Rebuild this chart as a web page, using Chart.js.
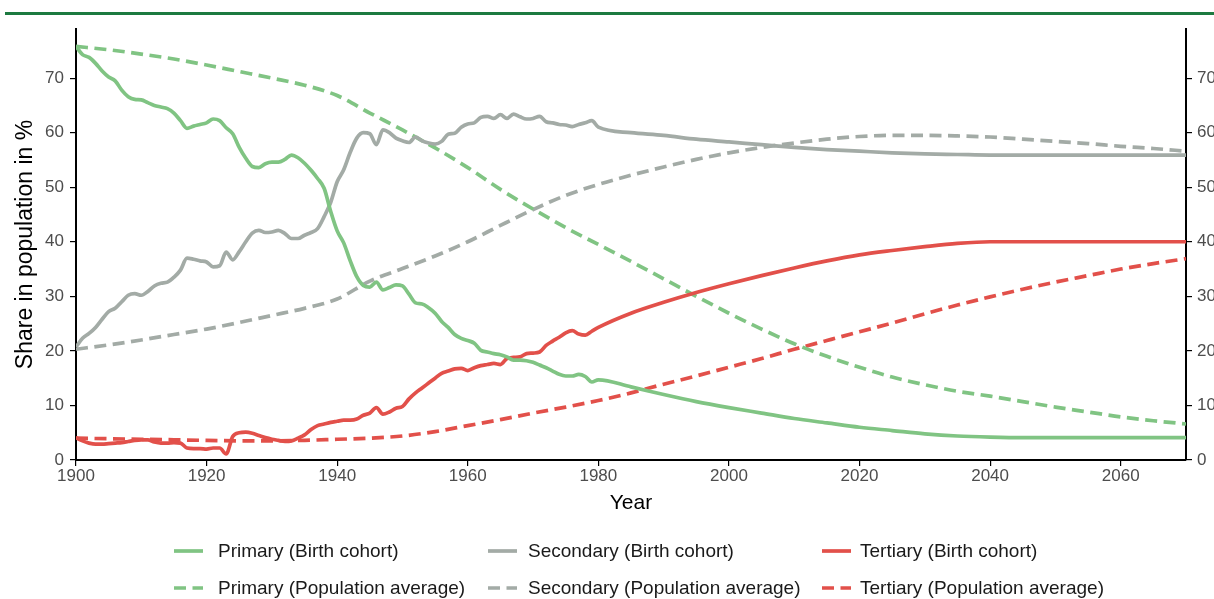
<!DOCTYPE html>
<html>
<head>
<meta charset="utf-8">
<script src="https://cdn.jsdelivr.net/npm/chart.js@4.4.1/dist/chart.umd.min.js"></script>
<style>
  html, body { margin: 0; padding: 0; background: #fff; overflow: hidden; width: 1214px; height: 599px; }
  #wrap { position: relative; width: 1240px; height: 599px; }
  #rule { position: absolute; left: 5px; top: 12px; width: 1235px; height: 2.6px; background: #1d7a40; }
  canvas { position: absolute; left: 0; top: 0; }
</style>
</head>
<body>
<div id="wrap">
  <div id="rule"></div>
  <canvas id="chart" width="1240" height="599"></canvas>
</div>
<script>
// Educational attainment shares (%), by birth cohort and as population average
const cohortYears = [
  1900, 1901, 1902, 1903, 1904, 1905, 1906, 1907, 1908, 1909,
  1910, 1911, 1912, 1913, 1914, 1915, 1916, 1917, 1918, 1919,
  1920, 1921, 1922, 1923, 1924, 1925, 1926, 1927, 1928, 1929,
  1930, 1931, 1932, 1933, 1934, 1935, 1936, 1937, 1938, 1939,
  1940, 1941, 1942, 1943, 1944, 1945, 1946, 1947, 1948, 1949,
  1950, 1951, 1952, 1953, 1954, 1955, 1956, 1957, 1958, 1959,
  1960, 1961, 1962, 1963, 1964, 1965, 1966, 1967, 1968, 1969,
  1970, 1971, 1972, 1973, 1974, 1975, 1976, 1977, 1978, 1979,
  1980, 1985, 1990, 1995, 2000, 2005, 2010, 2015, 2020, 2025,
  2030, 2035, 2040, 2045, 2050, 2060, 2070
];

const primaryCohort = [
  75.8, 74.3, 73.8, 72.7, 71.3, 70.2, 69.5, 67.8, 66.6, 66.1,
  66.0, 65.5, 65.0, 64.7, 64.4, 63.6, 62.2, 60.8, 61.2, 61.5,
  61.8, 62.5, 62.2, 60.9, 59.8, 57.3, 55.3, 53.8, 53.6, 54.3,
  54.6, 54.6, 55.1, 55.9, 55.4, 54.4, 53.1, 51.6, 49.8, 45.6,
  42.0, 39.8, 36.5, 33.6, 32.0, 31.7, 32.6, 31.2, 31.6, 32.1,
  31.9, 30.4, 28.8, 28.6, 27.9, 26.9, 25.4, 24.3, 23.0, 22.3,
  21.9, 21.4, 20.1, 19.8, 19.5, 19.3, 18.9, 18.3, 18.3, 18.2,
  17.9, 17.4, 16.9, 16.3, 15.7, 15.4, 15.4, 15.7, 15.3, 14.3,
  14.7, 13.4, 12.0, 10.7, 9.6, 8.6, 7.6, 6.8, 6.0, 5.4,
  4.8, 4.4, 4.2, 4.1, 4.1, 4.1, 4.1
];

const secondaryCohort = [
  20.7, 22.3, 23.2, 24.3, 25.8, 27.2, 27.8, 29.0, 30.2, 30.5,
  30.2, 30.9, 31.9, 32.4, 32.6, 33.5, 34.8, 37.0, 36.8, 36.5,
  36.3, 35.4, 35.6, 38.1, 36.7, 38.2, 40.0, 41.6, 42.1, 41.7,
  41.8, 42.1, 41.5, 40.6, 40.6, 41.2, 41.7, 42.4, 44.6, 47.2,
  51.0, 53.2, 56.4, 59.0, 60.0, 59.8, 57.8, 60.5, 60.0, 59.0,
  58.5, 58.2, 59.2, 58.5, 58.1, 57.9, 58.4, 59.7, 59.9, 61.0,
  61.6, 61.8, 62.8, 63.0, 62.6, 63.3, 62.6, 63.4, 62.9, 62.5,
  62.6, 63.0, 62.0, 61.8, 61.5, 61.4, 61.1, 61.5, 61.8, 62.2,
  61.0, 60.0, 59.5, 58.8, 58.3, 57.8, 57.3, 56.9, 56.6, 56.3,
  56.1, 56.0, 55.9, 55.9, 55.9, 55.9, 55.9
];

const tertiaryCohort = [
  4.1, 3.5, 3.1, 2.9, 2.9, 3.0, 3.1, 3.2, 3.4, 3.6,
  3.7, 3.7, 3.3, 3.1, 3.1, 3.2, 3.1, 2.2, 2.1, 2.1,
  2.0, 2.2, 2.2, 1.1, 4.3, 5.0, 5.1, 4.9, 4.5, 4.1,
  3.8, 3.6, 3.4, 3.5, 4.0, 4.6, 5.6, 6.3, 6.6, 6.9,
  7.1, 7.3, 7.3, 7.5, 8.2, 8.6, 9.6, 8.4, 8.8, 9.5,
  9.8, 11.2, 12.3, 13.2, 14.1, 15.0, 15.9, 16.3, 16.7, 16.8,
  16.4, 16.9, 17.3, 17.5, 17.7, 17.5, 18.6, 18.8, 18.9, 19.5,
  19.6, 19.8, 21.0, 21.8, 22.5, 23.3, 23.7, 23.1, 22.9, 23.6,
  24.3, 26.9, 28.9, 30.7, 32.3, 33.8, 35.2, 36.5, 37.6, 38.4,
  39.1, 39.7, 40.0, 40.0, 40.0, 40.0, 40.0
];

const averageYears = [
  1900, 1905, 1910, 1915, 1920, 1925, 1930, 1935, 1940, 1945,
  1950, 1955, 1960, 1965, 1970, 1975, 1980, 1985, 1990, 1995,
  2000, 2005, 2010, 2015, 2020, 2025, 2030, 2035, 2040, 2045,
  2050, 2055, 2060, 2065, 2070
];

const primaryAverage = [
  75.8, 75.2, 74.4, 73.5, 72.4, 71.2, 70.0, 68.7, 66.8, 63.6,
  60.5, 57.2, 53.6, 49.6, 46.0, 42.6, 39.5, 36.4, 33.2, 30.0,
  26.9, 24.0, 21.3, 19.0, 17.0, 15.2, 13.8, 12.6, 11.7, 10.7,
  9.7, 8.8, 7.9, 7.2, 6.6
];

const secondaryAverage = [
  20.3, 21.1, 22.0, 23.0, 24.0, 25.2, 26.5, 27.8, 29.5, 32.8,
  35.1, 37.4, 40.0, 43.0, 45.9, 48.5, 50.5, 52.2, 53.7, 55.1,
  56.3, 57.3, 58.1, 58.8, 59.3, 59.5, 59.5, 59.4, 59.2, 58.8,
  58.4, 58.0, 57.5, 57.1, 56.6
];

const tertiaryAverage = [
  4.0, 3.9, 3.8, 3.7, 3.6, 3.5, 3.5, 3.6, 3.8, 4.0,
  4.4, 5.2, 6.3, 7.4, 8.6, 9.7, 10.9, 12.3, 13.9, 15.4,
  17.0, 18.6, 20.3, 21.9, 23.5, 25.1, 26.8, 28.4, 29.9, 31.3,
  32.6, 33.8, 35.0, 36.0, 36.9
];

const xTickValues = [1900, 1920, 1940, 1960, 1980, 2000, 2020, 2040, 2060];
const yTickValues = [0, 10, 20, 30, 40, 50, 60, 70];

const seriesLabels = [
  'Primary (Birth cohort)', 'Secondary (Birth cohort)', 'Tertiary (Birth cohort)',
  'Primary (Population average)', 'Secondary (Population average)', 'Tertiary (Population average)'
];

const GREEN = '#80c483';
const GREY = '#a3aba6';
const RED = '#e2504a';
const DASH = [12, 6.5];
const FONT = '"Liberation Sans", Arial, Helvetica, sans-serif';
const TICK_FONT = { family: FONT, size: 17 };

function pairs(xs, ys) {
  return xs.map((x, i) => ({ x: x, y: ys[i] }));
}

function lineSet(label, xs, ys, color, dashed) {
  return {
    label: label,
    data: pairs(xs, ys),
    borderColor: color,
    backgroundColor: color,
    borderWidth: 3.7,
    borderDash: dashed ? DASH : [],
    borderCapStyle: 'butt',
    borderJoinStyle: 'round',
    pointRadius: 0,
    fill: false,
    cubicInterpolationMode: 'monotone',
    yAxisID: 'y'
  };
}

// Axis titles and the two-row legend, drawn below the plot area
const overlayPlugin = {
  id: 'overlay',
  afterDraw(chart) {
    const ctx = chart.ctx;
    const a = chart.chartArea;
    ctx.save();
    ctx.fillStyle = '#000';
    ctx.font = '21px ' + FONT;
    ctx.textAlign = 'center';
    ctx.textBaseline = 'middle';
    ctx.fillText('Year', (a.left + a.right) / 2, 503);
    ctx.save();
    ctx.translate(26, (a.top + a.bottom) / 2);
    ctx.rotate(-Math.PI / 2);
    ctx.font = '23px ' + FONT;
    ctx.fillText('Share in population in %', 0, 0);
    ctx.restore();

    const sampleX = [174, 488, 822];
    const textX = [218, 528, 860];
    const rowY = [551, 588];
    ctx.font = '19px ' + FONT;
    ctx.textAlign = 'left';
    chart.data.datasets.forEach((ds, i) => {
      const col = i % 3, row = Math.floor(i / 3);
      const y = rowY[row];
      ctx.save();
      ctx.strokeStyle = ds.borderColor;
      ctx.lineWidth = 3.7;
      ctx.lineCap = 'butt';
      ctx.setLineDash(ds.borderDash || []);
      ctx.beginPath();
      ctx.moveTo(sampleX[col], y);
      ctx.lineTo(sampleX[col] + 29, y);
      ctx.stroke();
      ctx.restore();
      ctx.fillStyle = '#1a1a1a';
      ctx.fillText(ds.label, textX[col], y + 1);
    });
    ctx.restore();
  }
};

function tickGrid() {
  return { display: true, drawOnChartArea: false, drawTicks: true, tickLength: 6, color: '#000', lineWidth: 1.2 };
}

new Chart(document.getElementById('chart'), {
  type: 'line',
  data: {
    datasets: [
      lineSet(seriesLabels[0], cohortYears, primaryCohort, GREEN, false),
      lineSet(seriesLabels[1], cohortYears, secondaryCohort, GREY, false),
      lineSet(seriesLabels[2], cohortYears, tertiaryCohort, RED, false),
      lineSet(seriesLabels[3], averageYears, primaryAverage, GREEN, true),
      lineSet(seriesLabels[4], averageYears, secondaryAverage, GREY, true),
      lineSet(seriesLabels[5], averageYears, tertiaryAverage, RED, true)
    ]
  },
  options: {
    responsive: false,
    animation: false,
    devicePixelRatio: 1,
    layout: { padding: { top: 29, left: 0, right: 0, bottom: 0 } },
    plugins: { legend: { display: false }, tooltip: { enabled: false } },
    scales: {
      x: {
        type: 'linear', min: 1900, max: 2070,
        afterBuildTicks: s => { s.ticks = xTickValues.map(v => ({ value: v })); },
        afterFit: s => { s.height = 139; },
        grid: tickGrid(),
        border: { display: true, color: '#000', width: 2 },
        ticks: { color: '#4d4d4d', font: TICK_FONT, padding: 0, maxRotation: 0, callback: v => String(v) }
      },
      y: {
        type: 'linear', position: 'left', min: 0, max: 79,
        afterBuildTicks: s => { s.ticks = yTickValues.map(v => ({ value: v })); },
        afterFit: s => { s.width = 76; },
        grid: tickGrid(),
        border: { display: true, color: '#000', width: 2 },
        ticks: { color: '#4d4d4d', font: TICK_FONT, padding: 6, callback: v => String(v) }
      },
      y2: {
        type: 'linear', position: 'right', min: 0, max: 79,
        afterBuildTicks: s => { s.ticks = yTickValues.map(v => ({ value: v })); },
        afterFit: s => { s.width = 54; },
        grid: tickGrid(),
        border: { display: true, color: '#000', width: 2 },
        ticks: { color: '#4d4d4d', font: TICK_FONT, padding: 5, callback: v => String(v) }
      }
    }
  },
  plugins: [overlayPlugin]
});
</script>
</body>
</html>
